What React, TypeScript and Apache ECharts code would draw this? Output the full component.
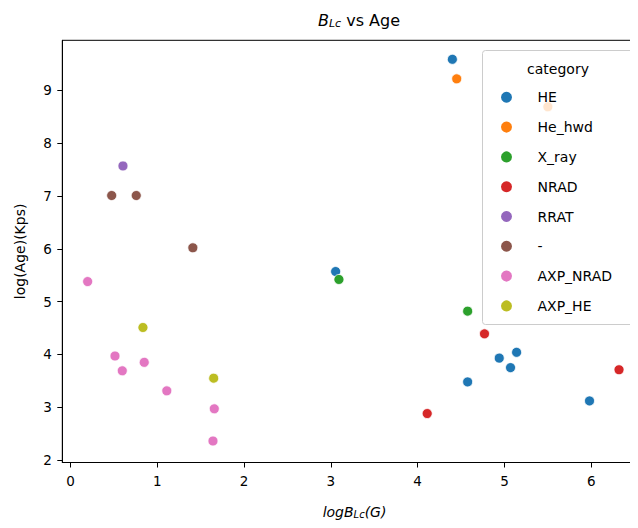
import React, { useEffect, useRef } from "react";
import * as echarts from "echarts";

const categories = ["HE", "He_hwd", "X_ray", "NRAD", "RRAT", "-", "AXP_NRAD", "AXP_HE"];
const colors = ["#1f77b4", "#ff7f0e", "#2ca02c", "#d62728", "#9467bd", "#8c564b", "#e377c2", "#bcbd22"];

const heData: [number, number][] = [
  [4.4, 9.59], [3.055, 5.57], [5.14, 4.04], [4.94, 3.93], [5.07, 3.75], [4.576, 3.48], [5.98, 3.12],
];
const heHwdData: [number, number][] = [[4.45, 9.22], [5.5, 8.69]];
const xRayData: [number, number][] = [[3.093, 5.42], [4.576, 4.82]];
const nradData: [number, number][] = [[4.77, 4.39], [6.32, 3.71], [4.11, 2.88]];
const rratData: [number, number][] = [[0.605, 7.57]];
const dashData: [number, number][] = [[0.475, 7.01], [0.758, 7.01], [1.41, 6.02]];
const axpNradData: [number, number][] = [
  [0.198, 5.38], [0.513, 3.97], [0.597, 3.69], [0.85, 3.85], [1.11, 3.31], [1.657, 2.97], [1.642, 2.36],
];
const axpHeData: [number, number][] = [[0.835, 4.51], [1.65, 3.55]];

const seriesData = [heData, heHwdData, xRayData, nradData, rratData, dashData, axpNradData, axpHeData];
const xTicks = [0, 1, 2, 3, 4, 5, 6];
const yTicks = [2, 3, 4, 5, 6, 7, 8, 9];

const FONT = "DejaVu Sans";

export default function App() {
  const ref = useRef<HTMLDivElement>(null);
  useEffect(() => {
    if (!ref.current) return;
    const chart = echarts.init(ref.current, undefined, { renderer: "svg" });
    chart.setOption({
      animation: false,
      textStyle: { fontFamily: FONT },
      title: {
        text: "{i|B}{s|Lc}{n| vs Age}",
        left: 354,
        top: 6,
        textAlign: "center",
        textStyle: {
          fontWeight: "normal",
          rich: {
            i: { fontFamily: FONT, fontSize: 16, fontStyle: "italic", fontWeight: "normal", color: "#000" },
            s: { fontFamily: FONT, fontSize: 11, fontStyle: "italic", fontWeight: "normal", color: "#000", padding: [7, 0, 0, 0] },
            n: { fontFamily: FONT, fontSize: 16, fontWeight: "normal", color: "#000" },
          },
        },
      },
      grid: {
        left: 62.3,
        top: 40.3,
        width: 584.5,
        bottom: 65.5,
        show: true,
        borderColor: "#000",
        borderWidth: 1,
        outerBoundsMode: "none",
        containLabel: false,
      },
      xAxis: {
        type: "value",
        min: -0.094,
        max: 6.64,
        splitLine: { show: false },
        axisLine: { show: true, onZero: false, lineStyle: { color: "#000", width: 1 } },
        axisTick: { show: true, length: 5, customValues: xTicks, lineStyle: { color: "#000" } },
        axisLabel: { customValues: xTicks, margin: 11, fontSize: 13.5, color: "#000", fontFamily: FONT },
        name: "{i|logB}{s|Lc}{i|(G)}",
        nameLocation: "middle",
        nameGap: 41,
        nameTextStyle: {
          rich: {
            i: { fontFamily: FONT, fontSize: 14, fontStyle: "italic", color: "#000" },
            s: { fontFamily: FONT, fontSize: 10, fontStyle: "italic", color: "#000", padding: [6, 0, 0, 0] },
          },
        },
      },
      yAxis: {
        type: "value",
        min: 1.953,
        max: 9.95,
        splitLine: { show: false },
        axisLine: { show: true, onZero: false, lineStyle: { color: "#000", width: 1 } },
        axisTick: { show: true, length: 5, customValues: yTicks, lineStyle: { color: "#000" } },
        axisLabel: { customValues: yTicks, margin: 10.5, fontSize: 13.5, color: "#000", fontFamily: FONT },
        name: "log(Age)(Kps)",
        nameLocation: "middle",
        nameRotate: 90,
        nameGap: 35,
        nameTextStyle: { fontFamily: FONT, fontSize: 14, color: "#000" },
      },
      legend: {
        orient: "vertical",
        left: 499,
        top: 89.3,
        padding: 0,
        itemWidth: 52,
        itemHeight: 13,
        itemGap: 13.8,
        icon: "circle",
        z: 200,
        data: categories,
        textStyle: { fontFamily: FONT, fontSize: 14, color: "#000", lineHeight: 16 },
      },
      graphic: [
        {
          type: "rect",
          z: 100,
          shape: { x: 482.5, y: 50.5, width: 154, height: 274, r: 3 },
          style: { fill: "rgba(255,255,255,0.8)", stroke: "#cccccc", lineWidth: 1 },
        },
        {
          type: "text",
          z: 150,
          x: 558,
          y: 68.5,
          style: {
            text: "category",
            fontFamily: FONT,
            fontSize: 14,
            fill: "#000",
            align: "center",
            verticalAlign: "middle",
          },
        },
      ],
      series: categories.map((name, i) => ({
        name,
        type: "scatter",
        data: seriesData[i],
        symbol: "circle",
        symbolSize: 10,
        itemStyle: { color: colors[i], borderColor: "#fff", borderWidth: 0.8, opacity: 1 },
        emphasis: { disabled: true },
      })),
    });
    return () => chart.dispose();
  }, []);
  return <div ref={ref} style={{ width: 638, height: 528, margin: -8 }} />;
}
